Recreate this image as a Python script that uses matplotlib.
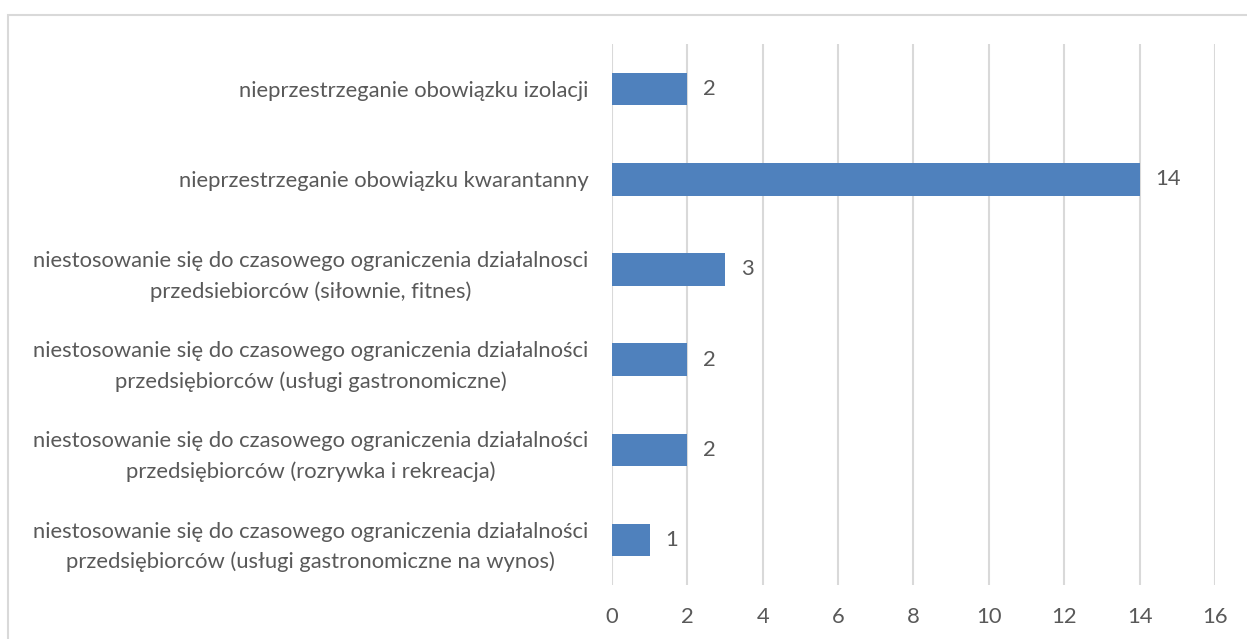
import matplotlib
matplotlib.use('Agg')
import matplotlib.pyplot as plt
from matplotlib.patches import Rectangle

plt.rcParams['font.family'] = ['Lato', 'DejaVu Sans']

# dane (od góry do dołu)
categories = [
    'nieprzestrzeganie obowiązku izolacji',
    'nieprzestrzeganie obowiązku kwarantanny',
    'niestosowanie się do czasowego ograniczenia działalnosci\nprzedsiebiorców (siłownie, fitnes)',
    'niestosowanie się do czasowego ograniczenia działalności\nprzedsiębiorców (usługi gastronomiczne)',
    'niestosowanie się do czasowego ograniczenia działalności\nprzedsiębiorców (rozrywka i rekreacja)',
    'niestosowanie się do czasowego ograniczenia działalności\nprzedsiębiorców (usługi gastronomiczne na wynos)',
]
values = [2, 14, 3, 2, 2, 1]
x_ticks = [0, 2, 4, 6, 8, 10, 12, 14, 16]

text_color = '#595959'
bar_color = '#4F81BD'
fs = 15.8

fig = plt.figure(figsize=(12.47, 6.39), dpi=100)
ax = fig.add_axes([0.4908, 0.0845, 0.4835, 0.8466])

pos = list(range(len(categories)))
ax.barh(pos, values, height=0.36, color=bar_color, zorder=3)
for p, v in zip(pos, values):
    ax.text(v + 0.42, p, str(v), va='center', ha='left', fontsize=fs, color=text_color)

ax.set_ylim(len(categories) - 0.5, -0.5)
ax.set_xlim(0, 16)
ax.set_xticks(x_ticks)
ax.set_yticks(pos)
ax.set_yticklabels(categories, multialignment='center', linespacing=1.6)
ax.tick_params(axis='y', length=0, pad=17, labelsize=fs, labelcolor=text_color)
ax.tick_params(axis='x', length=0, pad=16, labelsize=fs, labelcolor=text_color)

ax.grid(axis='x', color='#D9D9D9', linewidth=1.5, zorder=0)
for s in ax.spines.values():
    s.set_visible(False)

# ramka wykresu
fig.patches.append(Rectangle((8 / 1247, -0.05), 1.2, 0.05 + 0.9765, transform=fig.transFigure,
                             fill=False, edgecolor='#D9D9D9', linewidth=1.5))

fig.savefig('out.png', dpi=100)
